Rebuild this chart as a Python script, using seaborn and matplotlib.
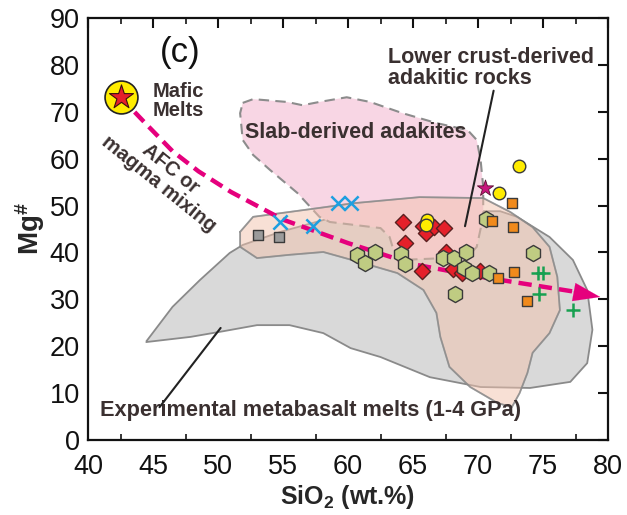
import matplotlib
matplotlib.use("Agg")
import matplotlib.pyplot as plt
import seaborn as sns
import numpy as np
import pandas as pd

# ---------------- data ----------------
gray_sq_x = [53.1, 54.7]
gray_sq_y = [43.7, 43.3]

blue_x_x = [54.8, 57.3, 59.2, 60.2]
blue_x_y = [46.5, 45.6, 50.5, 50.5]

red_d_x = [64.2, 64.4, 65.75, 66.0, 66.6, 67.4, 65.7, 67.5, 68.05, 68.75, 70.15]
red_d_y = [46.6, 42.1, 45.6, 44.2, 45.4, 45.2, 36.1, 40.2, 36.4, 35.6, 36.1]

yellow_x = [66.1, 66.0, 73.15, 71.6]
yellow_y = [46.9, 45.9, 58.4, 52.7]

hex_x = [60.7, 61.3, 62.1, 64.05, 64.4, 67.3, 68.15, 69.05, 68.9, 69.5, 70.85, 68.2, 70.6, 74.2]
hex_y = [39.5, 37.7, 40.2, 39.7, 37.5, 38.8, 38.9, 40.2, 36.6, 35.6, 35.7, 31.1, 47.1, 39.8]

orange_x = [72.6, 72.7, 71.05, 71.5, 72.8, 73.75]
orange_y = [50.5, 45.4, 46.8, 34.6, 35.9, 29.6]

green_x = [74.6, 75.0, 74.7, 77.3]
green_y = [35.6, 35.6, 31.1, 27.7]

star_x = [70.5]
star_y = [53.7]

mafic_x = [42.5]
mafic_y = [73.1]

afc_x = [42.5, 44.5, 46.5, 48.5, 51.0, 55.0, 60.0, 65.0, 70.0, 77.5]
afc_y = [73.1, 67.3, 61.6, 57.3, 52.9, 47.0, 42.0, 37.5, 34.9, 31.6]

gray_poly_x = [44.5, 46.5, 48.6, 50.9, 51.9, 54.8, 58.6, 65.5, 71.7, 73.0, 75.5, 77.3, 78.4, 78.8,
               78.4, 77.1, 74.0, 70.2, 66.3, 62.5, 60.2, 58.1, 55.5, 53.0, 50.4, 47.9, 44.5]
gray_poly_y = [21.1, 28.4, 34.1, 39.9, 41.6, 44.4, 47.3, 48.8, 48.8, 47.6, 43.3, 38.4, 32.0, 23.5,
               16.4, 12.4, 11.1, 11.3, 13.4, 17.7, 19.6, 22.8, 24.5, 24.5, 23.2, 22.0, 20.9]

tan_poly_x = [51.7, 52.7, 57.8, 60.4, 65.5, 70.4, 72.5, 74.2, 75.5, 76.1, 76.3, 75.5, 74.2, 73.8,
              73.2, 72.6, 71.5, 69.4, 67.8, 67.1, 66.8, 65.8, 63.8, 61.2, 58.1, 55.5, 53.0, 51.7]
tan_poly_y = [44.4, 47.6, 49.5, 50.5, 51.8, 51.6, 48.6, 45.4, 41.2, 34.8, 27.7, 22.8, 18.6, 14.3,
              10.0, 7.0, 7.9, 11.3, 15.6, 22.0, 27.1, 32.0, 35.6, 37.7, 40.1, 39.5, 38.8, 41.2]

pink_poly_x = [51.9, 52.7, 55.3, 56.5, 57.8, 59.9, 61.7, 64.2, 66.8, 69.2, 69.9, 70.2, 70.4, 70.4,
               69.9, 69.2, 64.0, 63.5, 63.2, 62.5, 58.6, 57.8, 56.1, 54.0, 52.7, 51.9, 51.7]
pink_poly_y = [71.9, 72.7, 72.1, 71.4, 72.1, 73.1, 72.1, 69.7, 67.6, 66.1, 64.0, 59.7, 54.0, 47.6,
               41.2, 39.0, 38.4, 40.5, 43.3, 45.2, 46.5, 47.6, 52.7, 57.6, 60.8, 64.0, 69.7]

x_ticks = [40, 45, 50, 55, 60, 65, 70, 75, 80]
y_ticks = [0, 10, 20, 30, 40, 50, 60, 70, 80, 90]

# ---------------- style ----------------
sns.set_theme(style="white")
plt.rcParams['font.family'] = ['Liberation Sans', 'DejaVu Sans']
plt.rcParams['mathtext.fontset'] = 'custom'
plt.rcParams['mathtext.rm'] = 'Liberation Sans'
plt.rcParams['mathtext.bf'] = 'Liberation Sans:bold'

fig = plt.figure(figsize=(6.27, 5.15), dpi=100)
ax = fig.add_axes([0.1404, 0.1456, 0.8293, 0.8194])

txt_col = '#3a3030'

# regions
ax.fill(gray_poly_x, gray_poly_y, facecolor='#d9d9d9', edgecolor='#8a8a8a', lw=1.3, zorder=1)
ax.fill(pink_poly_x, pink_poly_y, facecolor='#f8d6e4', edgecolor='#8c8c8c', lw=1.5,
        ls=(0, (5, 3)), zorder=2)
ax.fill(tan_poly_x, tan_poly_y, facecolor='#f2c2ad', edgecolor='#8a8a8a', alpha=0.5, lw=1.3, zorder=3)
ax.plot(tan_poly_x + [tan_poly_x[0]], tan_poly_y + [tan_poly_y[0]], color='#8a8a8a', lw=1.2,
        alpha=0.8, zorder=3)

# AFC trend line
sns.lineplot(x=afc_x, y=afc_y, sort=False, estimator=None, ax=ax, color='#e5007d', lw=3.2,
             dashes=False, zorder=4)
ax.lines[-1].set_dashes([3.0, 1.6])
ax.annotate('', xy=(79.4, 30.5), xytext=(77.0, 31.75),
            arrowprops=dict(arrowstyle='-|>,head_length=1.6,head_width=0.55', color='#e5007d',
                            lw=0.1, shrinkA=0, shrinkB=0), zorder=4)

edge = '#3a3a3a'
sns.scatterplot(x=gray_sq_x, y=gray_sq_y, marker='s', s=62, color='#9b9b9b', edgecolor=edge,
                linewidth=1.0, ax=ax, zorder=6)
sns.scatterplot(x=blue_x_x, y=blue_x_y, marker='x', s=105, color='#1e9fe0', linewidth=1.8,
                ax=ax, zorder=6)
sns.scatterplot(x=red_d_x, y=red_d_y, marker='D', s=68, color='#e5202a', edgecolor='#5a2020',
                linewidth=1.0, ax=ax, zorder=6)
sns.scatterplot(x=hex_x, y=hex_y, marker='h', s=135, color='#bfcc82', edgecolor=edge,
                linewidth=1.0, ax=ax, zorder=6)
sns.scatterplot(x=orange_x, y=orange_y, marker='s', s=62, color='#f08a1c', edgecolor=edge,
                linewidth=1.0, ax=ax, zorder=6)
sns.scatterplot(x=yellow_x, y=yellow_y, marker='o', s=82, color='#ffec00', edgecolor=edge,
                linewidth=1.0, ax=ax, zorder=7)
sns.scatterplot(x=green_x, y=green_y, marker='+', s=115, color='#17a050', linewidth=1.8,
                ax=ax, zorder=6)
sns.scatterplot(x=star_x, y=star_y, marker='*', s=150, color='#c8157d', edgecolor='#5a1030',
                linewidth=0.6, ax=ax, zorder=7)
sns.scatterplot(x=mafic_x, y=mafic_y, marker='o', s=560, color='#ffec00', edgecolor='#222222',
                linewidth=1.2, ax=ax, zorder=8)
sns.scatterplot(x=mafic_x, y=mafic_y, marker='*', s=330, color='#e5202a', edgecolor='#3a1010',
                linewidth=0.8, ax=ax, zorder=9)

# annotations
ax.text(47.1, 82.6, '(c)', fontsize=25, color='#111111', ha='center', va='center', zorder=10)
ax.text(45.0, 72.3, 'Mafic\nMelts', fontsize=14.5, fontweight='bold', color=txt_col,
        ha='left', va='center', linespacing=1.05, zorder=10)
ax.text(45.9, 56.2, 'AFC or\nmagma mixing', fontsize=14.5, fontweight='bold', color=txt_col,
        ha='center', va='center', rotation=-39, linespacing=1.0, rotation_mode='anchor', zorder=10)
ax.text(60.6, 65.5, 'Slab-derived adakites', fontsize=15.5, fontweight='bold', color=txt_col,
        ha='center', va='center', zorder=10)
ax.text(63.1, 79.3, 'Lower crust-derived\nadakitic rocks', fontsize=15.5, fontweight='bold',
        color=txt_col, ha='left', va='center', linespacing=1.0, zorder=10)
ax.plot([71.2, 69.0], [74.5, 45.6], color='#222222', lw=1.5, zorder=10)
ax.text(40.9, 6.4, 'Experimental metabasalt melts (1-4 GPa)', fontsize=15.7, fontweight='bold',
        color=txt_col, ha='left', va='center', zorder=10)
ax.plot([45.5, 50.2], [7.0, 23.9], color='#222222', lw=1.5, zorder=10)

# axes
ax.set_xlim(40, 80)
ax.set_ylim(0, 90)
ax.set_xticks(x_ticks)
ax.set_xticks(np.arange(42.5, 80, 5), minor=True)
ax.set_yticks(y_ticks)
ax.set_xticklabels([str(t) for t in x_ticks], fontsize=19.5, color='#111111')
ax.set_yticklabels([str(t) for t in y_ticks], fontsize=19.5, color='#111111')
ax.tick_params(axis='both', which='major', direction='in', length=7, width=1.5,
               top=True, right=True, colors='#111111')
ax.tick_params(axis='x', which='major', pad=10)
ax.tick_params(axis='y', which='major', pad=6)
ax.tick_params(axis='x', which='minor', direction='in', length=4, width=1.3, top=True, bottom=True)
for sp in ax.spines.values():
    sp.set_color('#111111')
    sp.set_linewidth(1.6)
ax.set_xlabel(r'SiO$_\mathbf{2}$ (wt.%)', fontsize=18, fontweight='bold', labelpad=2)
ax.set_ylabel(r'$\mathbf{Mg^{\#}}$', fontsize=20, labelpad=2)
ax.grid(False)

fig.savefig('out.png', dpi=100)
